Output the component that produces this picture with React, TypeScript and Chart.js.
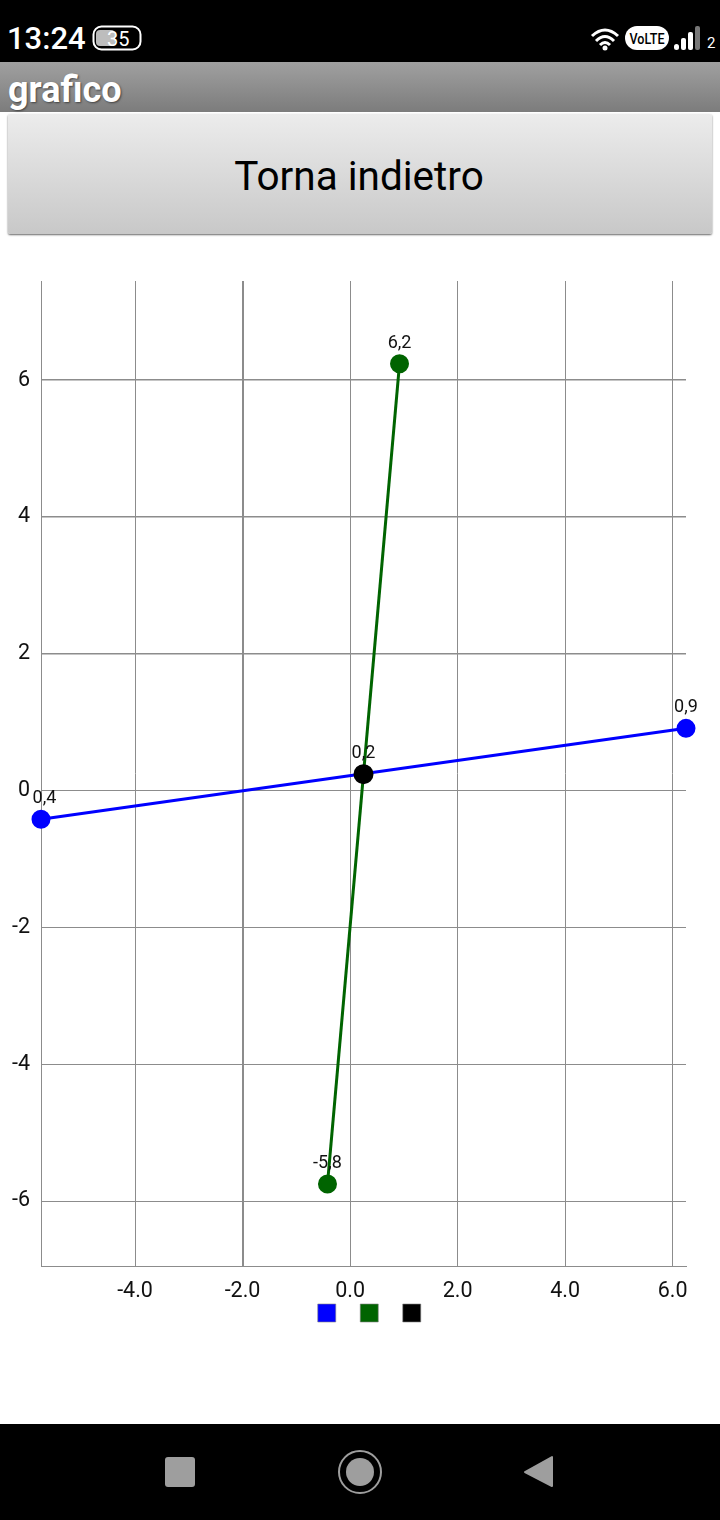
import React, { useEffect, useRef } from "react";
import { Chart, registerables } from "chart.js";

Chart.register(...registerables);

const blueX = [-5.75, 6.25];
const blueY = [-0.42, 0.91];
const greenX = [-0.42, 0.92];
const greenY = [-5.75, 6.24];
const blackX = [0.25];
const blackY = [0.24];
const xTickValues = [-4, -2, 0, 2, 4, 6];
const yTickValues = [-6, -4, -2, 0, 2, 4, 6];

const BLUE = "#0000ff";
const GREEN = "#006400";
const BLACK = "#000000";
const GRID = "#8c8c8c";
const FONT = "Roboto";

const toPoints = (xs: number[], ys: number[]) => xs.map((x, i) => ({ x, y: ys[i] }));

const valueLabels = {
  id: "valueLabels",
  afterDatasetsDraw(chart: any) {
    const ctx = chart.ctx;
    ctx.save();
    ctx.font = `18px ${FONT}`;
    ctx.fillStyle = "#111";
    ctx.textBaseline = "alphabetic";
    ctx.textAlign = "left";
    const minStart = chart.chartArea.left - 12;
    chart.data.datasets.forEach((ds: any, d: number) => {
      const meta = chart.getDatasetMeta(d);
      meta.data.forEach((el: any, i: number) => {
        const text = ds.data[i].y.toFixed(1).replace(".", ",");
        const w = ctx.measureText(text).width;
        const start = el.x - w / 2;
        const y = el.y - 16;
        if (start < minStart && text.startsWith("-")) {
          const rest = text.slice(1);
          ctx.fillText(rest, start + (w - ctx.measureText(rest).width) + 1, y);
        } else {
          ctx.fillText(text, start, y);
        }
      });
    });
    ctx.restore();
  },
};

const shiftLegend = {
  id: "shiftLegend",
  afterLayout(chart: any) {
    chart.legend.left += 26.5;
    chart.legend.right += 26.5;
    chart.legend.top -= 20;
    chart.legend.bottom -= 20;
  },
};

function StatusBar() {
  return (
    <svg width={720} height={62} style={{ position: "absolute", left: 0, top: 0, background: "#000" }}>
      <text x={7} y={49} fill="#fff" fontFamily={FONT} fontSize={31} fontWeight={500}>13:24</text>
      <rect x={93.5} y={26.5} width={47} height={23} rx={8} fill="none" stroke="#fff" strokeWidth={2} />
      <rect x={96} y={30} width={19} height={16} rx={4} fill="#bdbdbd" />
      <text x={107} y={46} fill="#fff" fontFamily={FONT} fontSize={20}>35</text>
      <path d="M592 36 Q605 24 618 36" fill="none" stroke="#fff" strokeWidth={3} />
      <path d="M596 41 Q605 32 614 41" fill="none" stroke="#fff" strokeWidth={3} />
      <path d="M600 45 Q605 40 610 45" fill="none" stroke="#fff" strokeWidth={3} />
      <circle cx={605} cy={48} r={2.500} fill="#fff" />
      <rect x={625} y={26} width={44} height={24} rx={12} fill="#fff" />
      <text x={647} y={43.500} textAnchor="middle" fill="#000" fontFamily={FONT} fontSize={15} fontWeight={500} textLength={35} lengthAdjust="spacingAndGlyphs">VoLTE</text>
      <rect x={674} y={44} width={5} height={6} rx={2.500} fill="#fff" />
      <rect x={681} y={38} width={5} height={12} rx={2} fill="#fff" />
      <rect x={688} y={32} width={5} height={18} rx={2} fill="#fff" />
      <rect x={695} y={26} width={5} height={24} rx={2} fill="#777" />
      <text x={707} y={48} fill="#fff" fontFamily={FONT} fontSize={15}>2</text>
    </svg>
  );
}

function NavBar() {
  return (
    <svg width={720} height={96} style={{ position: "absolute", left: 0, top: 1424, background: "#000" }}>
      <rect x={165} y={33} width={30} height={30} rx={3} fill="#9e9e9e" />
      <circle cx={360} cy={48} r={21} fill="none" stroke="#9e9e9e" strokeWidth={2} />
      <circle cx={360} cy={48} r={14} fill="#9e9e9e" />
      <path d="M552 33 L552 62 L525 48 Z" fill="#9e9e9e" stroke="#9e9e9e" strokeWidth={2} strokeLinejoin="round" />
    </svg>
  );
}

export default function App() {
  const ref = useRef<HTMLCanvasElement>(null);

  useEffect(() => {
    const axisFont = { family: FONT, size: 21.5 };
    const chart = new Chart(ref.current as HTMLCanvasElement, {
      type: "scatter",
      data: {
        datasets: [
          { label: "", data: toPoints(blueX, blueY), borderColor: BLUE, backgroundColor: BLUE, showLine: true, borderWidth: 3, pointRadius: 8, order: 1, clip: false },
          { label: "", data: toPoints(greenX, greenY), borderColor: GREEN, backgroundColor: GREEN, showLine: true, borderWidth: 3, pointRadius: 8, order: 2, clip: false },
          { label: "", data: toPoints(blackX, blackY), borderColor: BLACK, backgroundColor: BLACK, showLine: false, borderWidth: 3, pointRadius: 8.500, order: 0, clip: false },
        ],
      } as any,
      plugins: [valueLabels, shiftLegend],
      options: {
        animation: false,
        responsive: false,
        layout: { padding: { left: 0, right: 34, top: 41, bottom: 72 } },
        plugins: {
          tooltip: { enabled: false },
          title: { display: false },
          legend: {
            display: true,
            position: "bottom",
            labels: {
              boxWidth: 18,
              boxHeight: 18,
              padding: 24,
              font: { size: 1 },
              sort: (a: any, b: any) => a.datasetIndex - b.datasetIndex,
              generateLabels: (c: any) =>
                c.data.datasets.map((ds: any, i: number) => ({
                  text: "",
                  fillStyle: ds.backgroundColor,
                  strokeStyle: "rgba(130,130,130,0.6)",
                  lineWidth: 1,
                  hidden: false,
                  datasetIndex: i,
                })),
            },
          },
        },
        scales: {
          x: {
            type: "linear",
            min: -5.75,
            max: 6.25,
            afterBuildTicks: (s: any) => { s.ticks = xTickValues.map((value) => ({ value })); },
            afterFit: (s: any) => { s.height = 34; },
            grid: { color: GRID, lineWidth: (c: any) => (c.tick && c.tick.value === -2 ? 2 : 1), drawTicks: false },
            border: { display: true, color: GRID, width: 1 },
            ticks: { font: axisFont, color: "#111", padding: 12.5, maxRotation: 0, autoSkip: false, callback: (v: any) => Number(v).toFixed(1) },
          },
          y: {
            type: "linear",
            min: -6.95,
            max: 7.45,
            afterBuildTicks: (s: any) => { s.ticks = yTickValues.map((value) => ({ value })); },
            afterFit: (s: any) => { s.width = 41; },
            grid: { color: GRID, lineWidth: (c: any) => (c.tick && [2, 4, 6].includes(c.tick.value) ? 1.5 : 1), drawTicks: false },
            border: { display: true, color: GRID, width: 1 },
            ticks: { font: axisFont, color: "#111", padding: 11, autoSkip: false, callback: (v: any) => String(v) },
          },
        },
      },
    } as any);
    return () => chart.destroy();
  }, []);

  return (
    <div style={{ position: "absolute", left: 0, top: 0, width: 720, height: 1520, background: "#fff", overflow: "hidden", fontFamily: FONT }}>
      <StatusBar />
      <div style={{ position: "absolute", left: 0, top: 62, width: 720, height: 50, background: "linear-gradient(#a0a0a0,#7c7c7c)" }}>
        <div style={{ position: "absolute", left: 8, top: 8, color: "#fff", fontWeight: 700, fontSize: 36, lineHeight: "40px", textShadow: "1px 1px 2px rgba(50,50,50,0.8)" }}>grafico</div>
      </div>
      <div style={{ position: "absolute", left: 8, top: 114, width: 704, height: 120, background: "linear-gradient(#ececec,#c8c8c8)", boxShadow: "0 1px 2px rgba(0,0,0,0.6)", borderRadius: 2, display: "flex", alignItems: "center", justifyContent: "center", fontSize: 40.5, color: "#000", paddingTop: 3, paddingRight: 2, boxSizing: "border-box" }}>
        Torna indietro
      </div>
      <canvas ref={ref} width={720} height={1184} style={{ position: "absolute", left: 0, top: 240, width: 720, height: 1184 }} />
      <NavBar />
    </div>
  );
}
